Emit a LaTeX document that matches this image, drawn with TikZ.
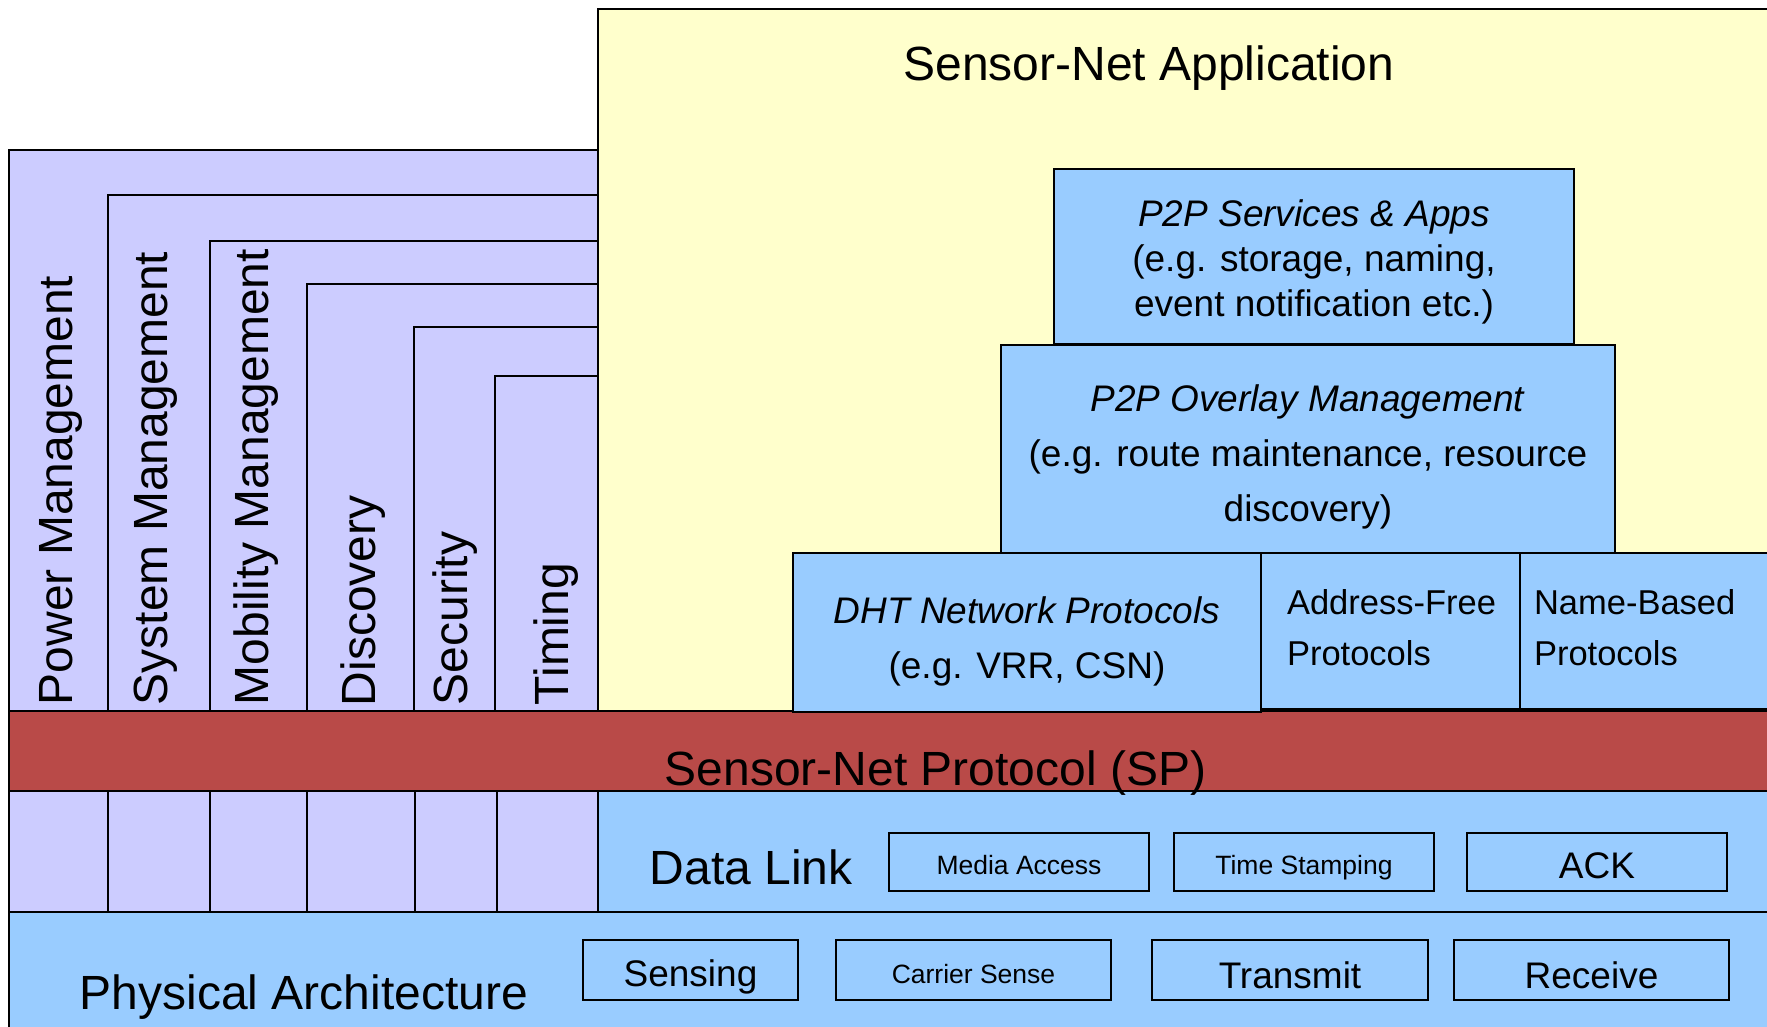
\documentclass[tikz,border=0pt]{standalone}
\usepackage{fontspec}
\setmainfont{Liberation Sans}
\usepackage{tikz}
\definecolor{mgmtLav}{HTML}{CCCCFF}
\definecolor{appYellow}{HTML}{FFFFCC}
\definecolor{layerBlue}{HTML}{99CCFF}
\definecolor{spRed}{HTML}{B94A48}

\begin{document}
\begin{tikzpicture}[x=1pt,y=-1pt,line width=1.6pt,
 big/.style={font=\fontsize{48}{56}\selectfont,inner sep=0},
 vlabel/.style={big,rotate=90,anchor=base west},
 layer/.style={rectangle,draw=black,fill=layerBlue,inner sep=0,align=center,
 font=\fontsize{37}{45}\selectfont},
 subbox/.style={rectangle,draw=black,fill=layerBlue,inner sep=0,text depth=0pt,
 font=\fontsize{37}{45}\selectfont},
 smalltext/.style={font=\fontsize{26.5}{32}\selectfont}]
\useasboundingbox (0,0) rectangle (1767,1027);
% backgrounds of the stack
\fill[mgmtLav] (9,150) rectangle (598,912);
\draw[fill=appYellow] (598,711) |- (1790,9);
\fill[appYellow] (599,10) rectangle (1790,711);
\draw[line width=2.5pt] (598,9) -- (1790,9);
\draw (9,711) |- (598,150);
\foreach \x/\y in {108/195,210/241,307/284,414/327,495/376}
 \draw (\x,711) |- (597,\y);
\draw[fill=spRed] (9,711) rectangle (1790,791);
\draw[fill=layerBlue] (598,791) rectangle (1790,912);
\foreach \x in {108,210,307,415,497}
 \draw (\x,791) -- (\x,912);
\draw[fill=layerBlue] (9,912) rectangle (1790,1040);
\draw[line width=2.5pt] (9,791) -- (1790,791);
\draw (9,150) -- (9,1027);

% management columns
\node[vlabel] (power) at (72,706) {Power Management};
\node[vlabel] (sysman) at (167,706) {System Management};
\node[vlabel] (mobility) at (268,706) {Mobility Management};
\node[vlabel] (discovery) at (375,707) {Discovery};
\node[vlabel] (security) at (467,706) {Security};
\node[vlabel] (timing) at (568,706) {Timing};

% application part
\node[big,anchor=base] (app) at (1149,81) {Sensor-Net Application};
\node[layer,minimum width=520,minimum height=175] (p2papps) at (1314,256.5)
 {\rule{0pt}{37pt}\textit{P2P Services \& Apps}\\(e.g. storage, naming,\\event notification etc.)};
\node[layer,minimum width=614,minimum height=208,font=\fontsize{37}{55}\selectfont] (overlay) at (1308,449)
 {\rule{0pt}{43pt}\textit{P2P Overlay Management}\\(e.g. route maintenance, resource\\discovery)};
\node[layer,minimum width=468,minimum height=159,font=\fontsize{37}{55}\selectfont] (dht) at (1027,632.5)
 {\rule{0pt}{45pt}\textit{DHT Network Protocols}\\(e.g. VRR, CSN)};
\node[layer,align=left,text width=207,inner xsep=26,minimum height=156,font=\fontsize{34.5}{51}\selectfont] (addrfree) at (1390.5,631)
 {\mbox{Address-Free}\\Protocols\rule[-7pt]{0pt}{7pt}};
\node[layer,align=left,text width=242,inner xsep=14,minimum height=156,font=\fontsize{34.5}{51}\selectfont] (namebased) at (1655,631)
 {Name-Based\\Protocols\rule[-7pt]{0pt}{7pt}};

% SP, data link and physical
\node[big,anchor=base west] (sp) at (664,785) {Sensor-Net Protocol (SP)};
\node[big,anchor=base west] (datalink) at (649,884) {Data Link};
\node[subbox,smalltext,text height=25pt,minimum width=260,minimum height=58] (media) at (1019,862) {Media Access};
\node[subbox,smalltext,text height=25pt,minimum width=260,minimum height=58] (stamp) at (1304,862) {Time Stamping};
\node[subbox,text height=33pt,minimum width=260,minimum height=58] (ack) at (1597,862) {ACK};
\node[big,anchor=base west] (phys) at (79,1009) {Physical Architecture};
\node[subbox,text height=32pt,minimum width=215,minimum height=60] (sensing) at (690.5,970) {Sensing};
\node[subbox,smalltext,text height=26pt,minimum width=275,minimum height=60] (carrier) at (973.5,970) {Carrier Sense};
\node[subbox,text height=36pt,minimum width=276,minimum height=60] (transmit) at (1290,970) {Transmit};
\node[subbox,text height=36pt,minimum width=275,minimum height=60] (receive) at (1591.5,970) {Receive};
\end{tikzpicture}
\end{document}
